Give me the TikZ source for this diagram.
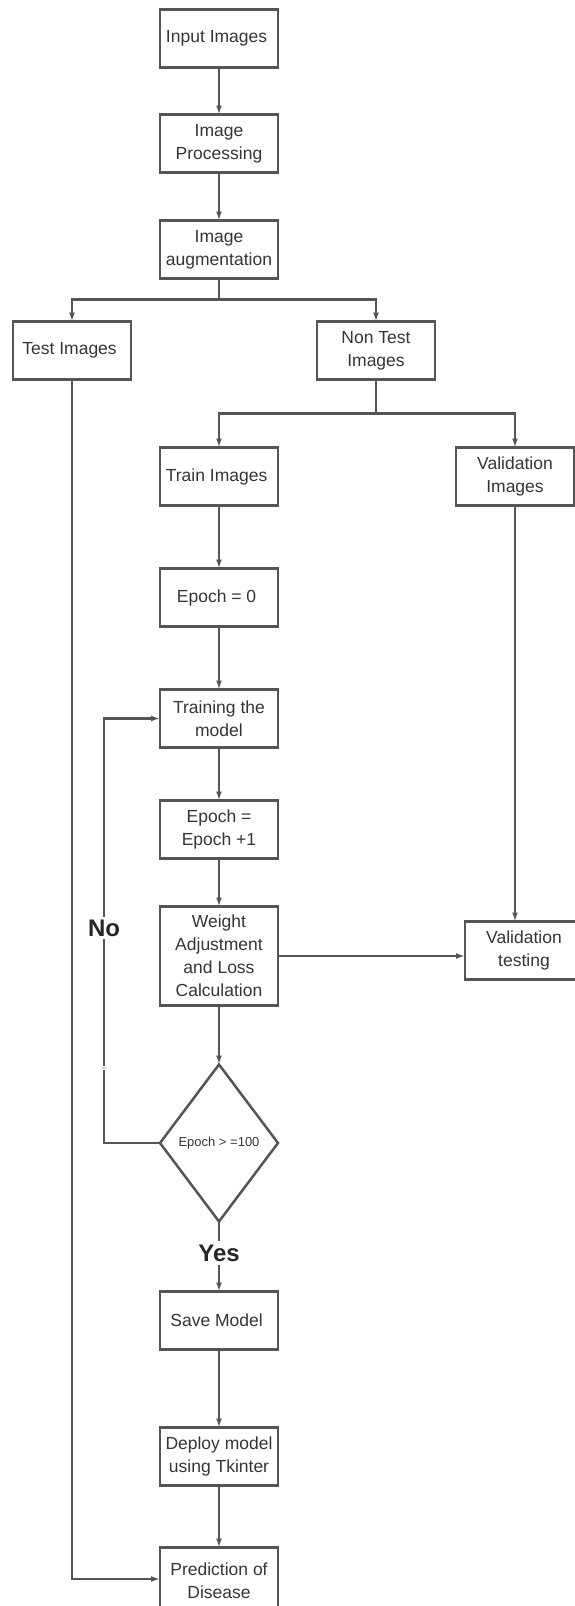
\documentclass[tikz,border=0pt]{standalone}
\usepackage{fontspec}
\setmainfont{Liberation Sans}
\usepackage{tikz}
\usetikzlibrary{positioning,shapes.geometric,arrows.meta}

\definecolor{linegray}{HTML}{555555}
\definecolor{textgray}{HTML}{353535}

\begin{document}
\begin{tikzpicture}[x=1pt, y=1pt,
    box/.style = { draw = linegray, line width = 2.5pt, shape = rectangle,
                   minimum width = 118pt, minimum height = 58pt, inner sep = 2pt,
                   outer sep = 0pt, align = center, text = textgray,
                   font = \fontsize{17.5}{23}\selectfont },
    decision/.style = { draw = linegray, line width = 2.5pt, shape = diamond,
                   minimum width = 118pt, minimum height = 157pt, inner sep = 0pt,
                   outer sep = 0pt, text = textgray, font = \fontsize{13}{16}\selectfont },
    answer/.style = { fill = white, inner sep = 3pt, text = black!85,
                   font = \fontsize{24}{26}\selectfont\bfseries },
    line/.style = { draw = linegray, line width = 2.3pt },
    arrow/.style = { line, -{Latex[length = 9pt, width = 6pt]} }]

    \path[use as bounding box, clip] (0,0) rectangle (575,-1606);

    % main column
    \node[box] (input) at (219,-38.5) { Input Images };
    \node[box, below = 47pt of input] (proc) { Image\\ Processing };
    \node[box, below = 48pt of proc] (aug) { Image\\ augmentation };
    \node[box, below left = 43pt and 29pt of aug] (test) { Test Images };
    \node[box, below right = 43pt and 39pt of aug] (nontest) { Non Test\\ Images };
    \node[box, below = 169pt of aug] (train) { Train Images };
    \node[box, right = 178pt of train] (val) { Validation\\ Images };
    \node[box, below = 63pt of train] (epoch) { Epoch = 0 };
    \node[box, below = 63pt of epoch] (training) { Training the\\ model };
    \node[box, below = 53pt of training] (incr) { Epoch =\\ Epoch +1 };
    \node[box, minimum height = 99pt, below = 48pt of incr] (weight)
      { Weight\\ Adjustment\\ and Loss\\ Calculation };
    \node[box, right = 187pt of weight, yshift = 5.5pt] (valtest) { Validation\\ testing };
    \node[decision, below = 59pt of weight] (check) { Epoch > =100 };
    \node[answer] (yes) at (219,-1253) { Yes };
    \node[box, below = 70pt of check] (save) { Save Model };
    \node[box, below = 78pt of save] (deploy) { Deploy model\\ using Tkinter };
    \node[box, minimum height = 66pt, below = 62pt of deploy] (pred) { Prediction of\\ Disease };

    \coordinate (bend) at (104,0);

    % connectors
    \draw[arrow] (input) -- (proc);
    \draw[arrow] (proc) -- (aug);
    \draw[arrow] (aug.south) -- ++(0,-21) -| (test.north);
    \draw[arrow] (aug.south) -- ++(0,-21) -| (nontest.north);
    \draw[arrow] (nontest.south) -- ++(0,-34) -| (train.north);
    \draw[arrow] (nontest.south) -- ++(0,-34) -| (val.north);
    \draw[arrow] (train) -- (epoch);
    \draw[arrow] (epoch) -- (training);
    \draw[arrow] (training) -- (incr);
    \draw[arrow] (incr) -- (weight);
    \draw[arrow] (weight.east) -- (weight.east -| valtest.west);
    \draw[arrow] (val.south) -- (val.south |- valtest.north);
    \draw[arrow] (weight) -- (check);
    \draw[line] (check.south) -- (yes);
    \draw[arrow] (yes) -- (save);
    \draw[arrow] (save) -- (deploy);
    \draw[arrow] (deploy) -- (pred);
    \draw[arrow] (check.west) -- (check.west -| bend) |- (training.west);
    \draw[arrow] (test.south) -- (test.south |- 0,-1579) -- (pred.west |- 0,-1579);

    \node[answer] (no) at (104,-928) { No };
    \node[inner sep = 0.5pt, fill = white, text = gray,
          font = \fontsize{3}{3}\selectfont] (tiny) at (104,-1068) { Text };

\end{tikzpicture}
\end{document}
